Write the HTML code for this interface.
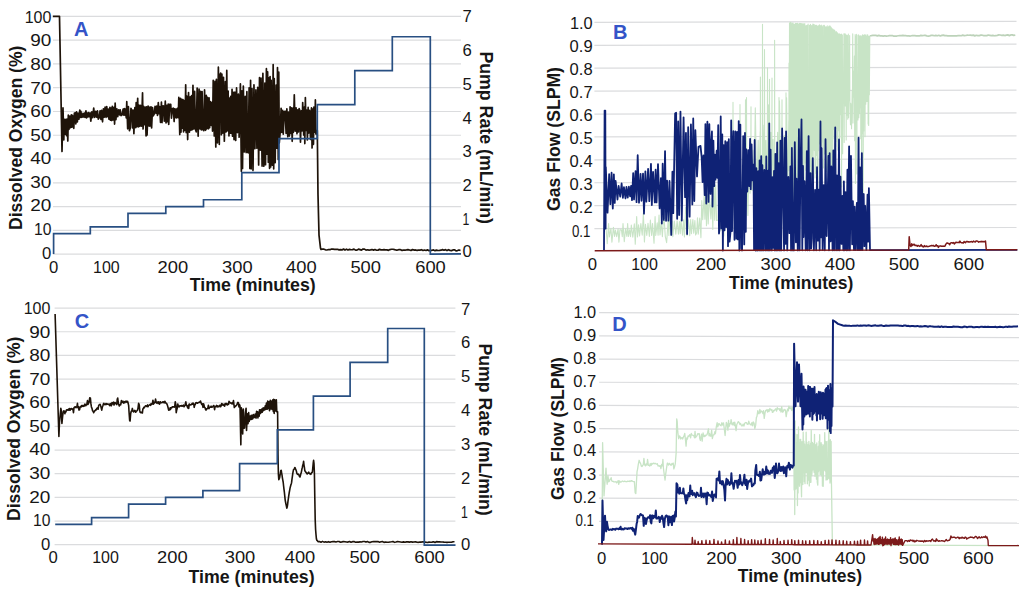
<!DOCTYPE html>
<html><head><meta charset="utf-8"><title>Dissolved oxygen and gas flow charts</title>
<style>
html,body{margin:0;padding:0;background:#fff;}
body{width:1024px;height:594px;overflow:hidden;}
svg{display:block;font-family:"Liberation Sans",Arial,sans-serif;}
</style></head><body>
<svg width="1024" height="594" viewBox="0 0 1024 594" fill="#161616">
<rect width="1024" height="594" fill="#fff"/>
<line x1="53" y1="254.1" x2="461" y2="254.1" stroke="#dbdcde" stroke-width="1.2"/>
<line x1="53" y1="230.33" x2="461" y2="230.33" stroke="#dbdcde" stroke-width="1.2"/>
<line x1="53" y1="206.56" x2="461" y2="206.56" stroke="#dbdcde" stroke-width="1.2"/>
<line x1="53" y1="182.79" x2="461" y2="182.79" stroke="#dbdcde" stroke-width="1.2"/>
<line x1="53" y1="159.02" x2="461" y2="159.02" stroke="#dbdcde" stroke-width="1.2"/>
<line x1="53" y1="135.25" x2="461" y2="135.25" stroke="#dbdcde" stroke-width="1.2"/>
<line x1="53" y1="111.48" x2="461" y2="111.48" stroke="#dbdcde" stroke-width="1.2"/>
<line x1="53" y1="87.71" x2="461" y2="87.71" stroke="#dbdcde" stroke-width="1.2"/>
<line x1="53" y1="63.94" x2="461" y2="63.94" stroke="#dbdcde" stroke-width="1.2"/>
<line x1="53" y1="40.17" x2="461" y2="40.17" stroke="#dbdcde" stroke-width="1.2"/>
<line x1="53" y1="16.4" x2="461" y2="16.4" stroke="#dbdcde" stroke-width="1.2"/>
<polyline points="52.8,16.4 59.5,16.4 62,151.41 63,107.91 63.8,140 64.4,119.31 65.13,134.24 65.89,119.4 66.52,135.68 66.99,119 67.81,141.04 68.3,115.21 69.03,129.29 69.86,116.19 70.48,127.6 71.35,114.74 71.85,127.17 72.53,115.35 73.1,125.9 73.79,128.34 74.4,112.99 75.31,112.97 75.79,124.02 76.51,111.97 77.35,121.87 77.96,113.18 78.94,119.24 79.78,110.17 80.38,117.47 80.88,111.3 81.69,117.31 82.43,117.04 82.97,113.26 83.53,116.93 84.55,113.11 85.07,117.41 85.94,110.86 86.56,117.92 87.15,113.09 87.77,116.82 88.38,112.65 89.05,116.69 90.04,112.82 90.84,121.21 91.83,111.97 92.67,117.72 93.71,108.17 94.7,117.43 95.7,111.3 96.68,117.21 97.47,110.86 98.29,119.11 99.26,117.6 100.06,110.89 100.96,119.51 101.55,110.39 102.55,121.79 103.41,108.78 104.26,117.06 105.1,107.06 106.1,117.3 106.74,106.48 107.7,116.72 108.25,109 108.95,119.15 109.91,107.35 110.37,120.17 111.17,108.04 111.7,120.58 112.29,106.42 113.01,119.89 114.03,107.38 114.59,124.1 115.15,103.17 115.91,119.66 116.84,108.92 117.72,116.69 118.72,109.75 119.64,114.97 120.22,109.96 121.1,115.57 122.13,114.85 123.13,109.14 123.84,115.04 124.31,108.63 124.86,115.11 125.4,108.99 126.27,117.87 126.77,101.71 127.66,128.83 128.44,106.7 129.43,130.64 130.2,128.18 130.95,108.35 131.71,110.15 132.45,127.98 133.15,110.13 133.89,133.76 134.88,107.5 135.7,127.74 136.16,102.71 136.8,126.57 137.69,98.39 138.26,126.97 138.96,105.1 139.79,126.43 140.6,105.46 141.54,126.17 142.54,92.82 143.08,129.01 143.58,106.24 144.11,124.84 144.68,107.6 145.2,107.23 146.06,135.96 146.53,106.79 147.07,135.06 148.11,106.01 149.14,126.1 149.87,107.04 150.32,126 151.05,106.89 151.6,127.96 152.53,107.5 153.22,115.97 154.15,114.08 155.07,106.45 156.05,113.28 156.74,106.15 157.47,115.51 158.3,102.53 158.95,113.75 159.63,106.51 160.54,122.52 161.43,102.2 162,122.59 162.99,105.92 163.78,106.03 164.28,121.18 165.29,101.22 166.03,122.85 166.74,105.39 167.36,121.76 168.24,104.09 168.71,124.41 169.7,104.38 170.72,104.36 171.46,118.09 172.47,108.55 173.41,108.23 174.13,121.55 174.66,108.79 175.26,117.59 176.03,109.08 176.63,117.95 177.45,108.41 178.24,117.75 178.8,97.45 179.78,134.53 180.49,98.33 180.98,132.11 181.81,99.31 182.46,128.21 182.99,99.51 183.56,131.88 184.24,100.52 185.01,130.38 185.69,84.78 186.19,132.59 186.81,96.07 187.66,139.53 188.53,92.59 189.41,132.23 190.21,96.73 190.92,130.35 191.61,95.64 192.28,129.71 192.96,85.3 193.73,128.93 194.64,91.42 195.4,129.29 196.24,131.82 197.16,88.03 198.15,136.2 199.05,89.1 199.96,128.93 200.61,91.47 201.38,129.89 202.08,91.62 203.01,129.59 203.85,130.61 204.55,89.91 205.59,130.34 206.3,95.44 206.93,128.78 207.49,97.46 208.49,128.81 209.07,97.76 209.65,127.61 210.56,101.71 211.29,125.51 211.95,102.66 212.53,131.08 213.21,80.39 214.26,135.94 214.99,81.39 215.8,146.95 216.41,79.24 217.46,142.85 218.37,67.2 219.31,144.31 219.82,75.25 220.62,73.05 221.32,134.66 221.9,74.19 222.85,133.09 223.48,77.23 224.34,141.2 225.37,81.58 226.05,131.92 226.77,70.44 227.35,130.81 228.12,91.01 228.97,136 229.62,98.04 230.27,133.15 230.77,96.28 231.47,133.38 232.05,89.32 232.54,136.15 233.38,92.36 234.03,139.61 234.9,92.18 235.72,140.44 236.56,87.95 237.48,132.58 238.39,94.2 239.14,137.24 240.4,83.95 241.36,171.21 241.94,90.75 242.52,168.42 243.34,86.04 244.31,151.92 245.21,96.43 246.17,152.57 246.88,91.67 247.4,152.16 248.26,152.76 249.12,87.78 249.88,168.46 250.57,80.33 251.16,168.82 252,88.57 253.01,170.38 253.96,84.79 254.93,148.66 255.9,89.91 256.93,148.12 257.75,87.37 258.64,164.89 259.5,77.64 260.33,150.03 261.05,78.18 262.09,166.05 262.9,73.23 263.85,166.24 264.89,83.04 265.51,164.65 266.41,68.71 267.01,154.27 267.63,71.86 268.32,162.18 268.77,77.96 269.56,168.31 270.09,76.56 270.67,167.02 271.2,80.37 272.24,165.1 273.17,64.63 273.7,168.85 274.24,78.55 275.17,162.7 276.18,85.03 276.98,148.18 277.49,67.61 278.26,159.52 278.77,72.05 279.28,143.03 280.22,131.84 281.1,108.3 281.73,132.38 282.65,110.3 283.26,134.26 284.22,111.78 285.12,111.22 286.12,133.37 286.85,108.79 287.79,136.83 288.43,112.06 289.38,136.04 290.09,106.82 290.62,133.43 291.37,107.78 292.19,141.32 292.91,108.12 293.39,132.31 294.28,94.77 295.22,131.27 296.07,107.78 296.96,133.83 297.77,109.9 298.45,132.01 299.15,108.55 299.8,110.47 300.48,142.12 301.42,110.77 302.11,130.99 302.69,102.48 303.72,135.09 304.3,107.09 304.82,143.54 305.37,97.6 305.96,130.44 306.83,109.99 307.38,139.92 308.14,107.44 308.85,133.06 309.64,110.44 310.52,139.44 311.49,107.77 312.07,147.92 312.58,109.09 313.46,144.39 313.91,107.09 314.84,132.23 315.37,99.92 315.91,133.98 317.3,130.5 318,194.68 319,235.08 320.5,248.16 321,249.38 322.5,249.17 324,249.17 325.5,249.8 327,249.97 328.5,249.55 330,249.68 331.5,249.05 333,249.2 334.5,249.32 336,249.38 337.5,249.27 339,249.89 340.5,249.55 342,249.89 343.5,249.02 345,250.03 346.5,249.14 348,250.03 349.5,249.32 351,249.74 352.5,249.67 354,249.16 355.5,250.15 357,250.11 358.5,249.11 360,249.6 361.5,250.11 363,249.05 364.5,249.11 366,250.11 367.5,249.75 369,250.11 370.5,249.9 372,249.55 373.5,250.1 375,249.48 376.5,250.26 378,250.12 379.5,249.37 381,249.87 382.5,249.86 384,249.66 385.5,249.81 387,249.93 388.5,250.36 390,249.55 391.5,249.27 393,249.27 394.5,249.65 396,250.03 397.5,250.03 399,249.65 400.5,249.68 402,250.36 403.5,250.22 405,250.08 406.5,249.91 408,249.57 409.5,249.95 411,250.52 412.5,249.58 414,250.06 415.5,249.97 417,250.33 418.5,250.09 420,250.15 421.5,249.71 423,250.51 424.5,249.99 426,250.44 427.5,249.84 429,250.63 430.5,250.36 432,250.29 433.5,249.95 435,250.65 436.5,250.18 438,250.49 439.5,250.41 441,250.19 442.5,249.63 444,250.2 445.5,249.65 447,250.6 448.5,249.71 450,250.38 451.5,250.6 453,249.95 454.5,249.76 456,250.85 457.5,250.55 459,249.96 460.5,250.48" fill="none" stroke="#1e1309" stroke-width="1.7" stroke-linejoin="round"/>
<polyline points="53.6,254.1 53.6,233.72 90.3,233.72 90.3,226.93 128,226.93 128,213.35 165.8,213.35 165.8,206.56 203.5,206.56 203.5,199.76 241.8,199.76 241.8,172.6 279,172.6 279,138.64 317.3,138.64 317.3,104.68 354.8,104.68 354.8,70.72 392.3,70.72 392.3,36.76 430.3,36.76 430.3,254.1 461,253.8" fill="none" stroke="#284f82" stroke-width="1.7" stroke-linejoin="miter"/>
<line x1="54.6" y1="544.7" x2="455.4" y2="544.7" stroke="#dbdcde" stroke-width="1.2"/>
<line x1="54.6" y1="521.04" x2="455.4" y2="521.04" stroke="#dbdcde" stroke-width="1.2"/>
<line x1="54.6" y1="497.38" x2="455.4" y2="497.38" stroke="#dbdcde" stroke-width="1.2"/>
<line x1="54.6" y1="473.72" x2="455.4" y2="473.72" stroke="#dbdcde" stroke-width="1.2"/>
<line x1="54.6" y1="450.06" x2="455.4" y2="450.06" stroke="#dbdcde" stroke-width="1.2"/>
<line x1="54.6" y1="426.4" x2="455.4" y2="426.4" stroke="#dbdcde" stroke-width="1.2"/>
<line x1="54.6" y1="402.74" x2="455.4" y2="402.74" stroke="#dbdcde" stroke-width="1.2"/>
<line x1="54.6" y1="379.08" x2="455.4" y2="379.08" stroke="#dbdcde" stroke-width="1.2"/>
<line x1="54.6" y1="355.42" x2="455.4" y2="355.42" stroke="#dbdcde" stroke-width="1.2"/>
<line x1="54.6" y1="331.76" x2="455.4" y2="331.76" stroke="#dbdcde" stroke-width="1.2"/>
<line x1="54.6" y1="308.1" x2="455.4" y2="308.1" stroke="#dbdcde" stroke-width="1.2"/>
<polyline points="55.1,314.02 58.9,436.57 59.5,421.67 59.6,421.44 60.19,415.14 60.84,408.32 61.39,410.88 61.92,423.45 62.61,416.43 63.32,411.5 63.85,410.89 64.47,411.29 64.86,413.69 65.43,411.55 65.87,412.02 66.34,410.25 67.04,409.73 67.68,410.14 68.1,410.18 68.55,409.05 69.07,410.03 69.59,408.48 69.98,410.24 70.69,409.18 71.26,408.48 71.85,408.72 72.29,409.42 72.98,408.85 73.47,412.59 73.98,407.85 74.66,407.07 75.37,406.86 76.05,407.67 76.51,406.72 76.92,406.75 77.46,403.39 77.86,407.67 78.53,406.63 78.97,410.04 79.53,409.77 80.03,407.25 80.67,406.39 81.21,406.99 81.65,405.64 82.07,405.55 82.56,406.42 83.09,405.36 83.74,406.36 84.26,406.13 84.9,404.08 85.46,405.53 85.92,405.75 86.43,404.47 86.83,404.37 87.47,400.51 87.99,404.38 88.45,403.42 89.08,402.27 89.71,397.81 90.36,397.95 90.92,403.7 91.41,406.93 92,408.4 92.59,410.78 93,411.07 93.67,412.75 94.32,411.36 95.02,410.64 95.56,409.95 95.97,410.2 96.37,409.19 96.89,408.29 97.4,407.92 98.09,409.28 98.71,405.25 99.3,404.87 99.97,404.24 100.44,405.1 101.03,407.12 101.74,410.14 102.22,407.51 102.79,406.06 103.49,403.81 103.91,403.3 104.36,404.55 104.97,404.63 105.46,404.57 105.9,403.6 106.48,404.38 107.18,403.87 107.77,404.19 108.28,404.14 108.98,404.57 109.67,405.71 110.2,403.55 110.9,404.11 111.35,405.74 111.99,402.56 112.39,403.86 112.96,403.72 113.62,402.15 114.02,405.02 114.56,402.9 115.11,402.51 115.55,403.58 116.14,403.82 116.75,404.63 117.25,399.38 117.73,398 118.12,401.5 118.59,404.3 119.29,405.92 119.75,405.3 120.33,404.43 120.72,404.6 121.39,400.59 121.85,402.59 122.41,401.75 122.93,401.16 123.57,403.07 124.16,401.8 124.76,402.75 125.32,401.22 126.03,401.91 126.66,401.22 127.08,402.23 127.64,401.36 128.07,403.04 128.64,405.42 129.1,412.78 129.66,420.34 130.08,421.06 130.68,413.46 131.28,411.24 131.79,411.04 132.35,408.43 133,411.23 133.71,411.88 134.1,411.21 134.67,410.41 135.13,410.9 135.68,412.26 136.34,411.2 136.85,410.85 137.46,410.25 137.97,408.61 138.62,403.36 139.28,405.12 139.71,410.39 140.13,412.27 140.69,412.65 141.23,412.21 141.92,412.78 142.39,412.93 142.86,408.86 143.42,408.53 143.81,407.21 144.33,407.68 144.95,406.64 145.41,405.88 146.08,405.82 146.71,406.53 147.1,406.55 147.58,404.92 148.03,406.8 148.47,405.51 149.07,405.14 149.49,404.85 149.88,404.55 150.46,405.43 151.1,403.67 151.75,404.49 152.4,403.57 152.93,400.2 153.5,404.12 153.92,402.26 154.54,402.89 155.04,402.39 155.55,399.07 156.09,402.01 156.72,403.06 157.19,402.26 157.59,402.09 158.15,403.43 158.6,401.75 159,402.28 159.53,404.15 159.99,403.22 160.38,401.8 161.08,402.68 161.75,402.59 162.43,402.38 162.86,401.84 163.46,401.81 164.07,403.01 164.79,401.28 165.5,402.44 166.09,403.26 166.73,403.69 167.38,405.1 168.04,407.47 168.65,410.14 169.25,409.74 169.74,409.93 170.17,407.69 170.71,409.13 171.15,407.63 171.82,407.61 172.52,406.8 172.91,407.04 173.58,406.81 174.26,407.12 174.82,405.88 175.27,401.69 175.77,404.56 176.23,412.67 176.67,410.22 177.33,407.71 177.77,403.95 178.27,406.01 178.91,406.84 179.31,406.78 179.97,405.68 180.67,405.91 181.21,405.64 181.65,405.56 182.05,406.23 182.74,405.77 183.43,405.12 184.02,406.76 184.73,405.57 185.11,404.73 185.83,401.86 186.41,405.53 187.04,405.86 187.68,407.85 188.2,405.37 188.7,408.42 189.3,403.94 189.84,404.63 190.41,405.03 190.98,404.84 191.52,404.51 192.21,403.43 192.65,404.04 193.09,403.1 193.75,403.96 194.22,407.33 194.79,404.66 195.24,404.63 195.79,402.72 196.38,402.67 197.05,403.03 197.49,403.28 198.2,402.5 198.8,402.58 199.4,402.03 200.03,402.16 200.5,400.99 201.05,402.93 201.73,404.44 202.31,403.86 203,407.32 203.54,403.73 203.98,405.08 204.52,407.33 204.97,407.43 205.5,409.33 206,410.18 206.55,408.74 207.26,408.72 207.77,408.38 208.43,405.19 208.98,408.6 209.52,407.41 210.06,407.22 210.47,407.26 211.11,406.14 211.57,407.12 212.14,407.13 212.77,406.64 213.45,405.63 213.93,405.66 214.59,409.69 215,407.1 215.6,406.62 216.13,406.42 216.54,405.4 217.17,406.98 217.69,405.93 218.2,406.82 218.89,406.8 219.58,405.4 220.03,405.18 220.69,406.66 221.14,405.87 221.75,403.58 222.17,405.08 222.88,404.17 223.54,405.44 224.05,405.09 224.59,406.25 225.14,403.52 225.83,404.37 226.25,403.44 226.86,404.54 227.3,404.89 227.98,403.59 228.54,404.31 229,401.28 229.64,402.68 230.18,402.65 230.73,403.1 231.19,403.14 231.63,403.65 232.23,402.79 232.79,403.91 233.47,400.65 233.87,404.14 234.33,407.54 234.78,406.74 235.27,406.08 235.77,406.19 236.25,405.44 236.91,404.77 237.41,403.16 237.88,402.41 238.46,402.94 238.94,406.96 239.59,404.65 240,405.98 240.84,444.85 241.37,407.83 241.88,411.74 242.68,434.02 243.33,408.94 243.96,428.16 244.6,427.96 245.42,412.87 246.09,408.2 246.54,430.45 247.34,413.8 248.02,423.8 248.66,412.44 249.23,421.35 250.06,416.08 250.87,419.56 251.28,415.32 251.8,419.14 252.18,415.4 252.64,418.88 253.4,414.59 254,417.7 254.71,417.18 255.24,413.99 256.06,418.09 256.58,411.2 257.07,416.38 257.48,411.83 257.93,417.93 258.39,412.33 259.15,416.25 259.53,409.75 260.25,413.57 260.72,409.75 261.15,412.69 261.75,409.06 262.13,412.26 262.96,408.16 263.39,410.66 263.75,407.74 264.5,409.92 265.26,405.8 265.7,409.37 266.45,403.08 267.23,409.32 267.69,401.04 268.16,408.57 268.79,401.71 269.52,410.62 270.26,400.2 270.71,408.92 271.27,401 272.09,409.54 272.84,399.87 273.31,411.59 273.68,399.41 274.2,413.4 274.73,399.86 275.51,411.02 276.33,399.68 276.8,411.84 277.6,411.7 278,454.46 278.4,474.24 278.8,479.77 279.2,478.7 279.6,477.91 280,475.26 280.4,473.21 280.8,470.61 281.2,470.24 281.6,472.87 282,474.96 282.4,477.83 282.8,480.13 283.2,482.27 283.6,486.02 284,489.32 284.4,492.47 284.8,496.32 285.2,500.08 285.6,502.25 286,504.37 286.4,506.18 286.8,508.12 287.2,507.08 287.6,504.64 288,501.02 288.4,498.32 288.8,495.4 289.2,492.77 289.6,490.66 290,488.41 290.4,486.68 290.8,485.13 291.2,484.02 291.6,482.46 292,479.07 292.4,476.46 292.8,473.31 293.2,471.09 293.6,469.56 294,469.35 294.4,468.5 294.8,467.57 295.2,467.88 295.6,469.02 296,470.08 296.4,471.21 296.8,473.21 297.2,473.99 297.6,474.33 298,474.54 298.4,474.22 298.8,474.73 299.2,475.66 299.6,476.79 300,476.93 300.4,475.45 300.8,473.73 301.2,472.85 301.6,470.85 302,468.61 302.4,467.19 302.8,464.97 303.2,464.09 303.6,461.33 304,465.12 304.4,467.4 304.8,470.57 305.2,471.27 305.6,471.98 306,472.21 306.4,472.98 306.8,473.38 307.2,473.98 307.6,473.12 308,473.07 308.4,473.22 308.8,472.14 309.2,472.85 309.6,473.4 310,473.87 310.4,473.74 310.8,474.39 311.2,473.3 311.6,472.52 312,472.64 312.4,472.01 312.8,467.77 313.2,463.46 313.6,460.36 314,463.59 314.4,473.07 314.8,497.47 315.2,519.62 315.6,529.5 316,534.52 316.4,538.75 316.8,540.28 317.2,540.47 318,541.66 319.5,541.54 321,542.17 322.5,541.4 324,542.16 325.5,541.71 327,542.26 328.5,541.63 330,542.21 331.5,541.69 333,541.67 334.5,541.64 336,541.95 337.5,541.55 339,541.44 340.5,542.26 342,541.89 343.5,541.47 345,541.68 346.5,541.96 348,542.1 349.5,541.49 351,542.31 352.5,541.67 354,541.6 355.5,542.25 357,542.09 358.5,542.11 360,541.89 361.5,542.06 363,541.57 364.5,541.54 366,542.12 367.5,541.57 369,542.36 370.5,542.33 372,541.8 373.5,541.67 375,541.66 376.5,541.5 378,541.62 379.5,542.19 381,541.74 382.5,541.57 384,542.36 385.5,541.98 387,542.31 388.5,542.32 390,542 391.5,541.83 393,541.54 394.5,542.34 396,541.99 397.5,541.53 399,541.75 400.5,541.97 402,542.25 403.5,541.88 405,542.24 406.5,541.88 408,541.87 409.5,542.12 411,541.74 412.5,542.11 414,542.06 415.5,541.71 417,542.27 418.5,542.33 420,541.97 421.5,542.1 423,541.69 424.5,542.28 426,542.17 427.5,542.47 429,542.1 430.5,542.23 432,542.11 433.5,541.81 435,542.5 436.5,541.6 438,541.87 439.5,541.78 441,542.04 442.5,542 444,542.16 445.5,542.18 447,542.35 448.5,542.27 450,542.28 451.5,542.25 453,541.71 454.5,541.81" fill="none" stroke="#1e1309" stroke-width="1.6" stroke-linejoin="round"/>
<polyline points="55.2,524.43 91.6,524.43 91.6,517.68 128.6,517.68 128.6,504.16 165.6,504.16 165.6,497.41 202.9,497.41 202.9,490.65 239.6,490.65 239.6,463.63 277.3,463.63 277.3,429.85 313.4,429.85 313.4,396.07 350.1,396.07 350.1,362.29 387.7,362.29 387.7,328.51 424.3,328.51 424.3,545.21 455.5,545.2" fill="none" stroke="#284f82" stroke-width="1.7" stroke-linejoin="miter"/>
<g transform="matrix(1 -0.0026 0 1 0 1.544)">
<line x1="594.4" y1="228.59" x2="1016.5" y2="228.59" stroke="#dbdcde" stroke-width="1.2"/>
<line x1="594.4" y1="205.68" x2="1016.5" y2="205.68" stroke="#dbdcde" stroke-width="1.2"/>
<line x1="594.4" y1="182.77" x2="1016.5" y2="182.77" stroke="#dbdcde" stroke-width="1.2"/>
<line x1="594.4" y1="159.86" x2="1016.5" y2="159.86" stroke="#dbdcde" stroke-width="1.2"/>
<line x1="594.4" y1="136.95" x2="1016.5" y2="136.95" stroke="#dbdcde" stroke-width="1.2"/>
<line x1="594.4" y1="114.04" x2="1016.5" y2="114.04" stroke="#dbdcde" stroke-width="1.2"/>
<line x1="594.4" y1="91.13" x2="1016.5" y2="91.13" stroke="#dbdcde" stroke-width="1.2"/>
<line x1="594.4" y1="68.22" x2="1016.5" y2="68.22" stroke="#dbdcde" stroke-width="1.2"/>
<line x1="594.4" y1="45.31" x2="1016.5" y2="45.31" stroke="#dbdcde" stroke-width="1.2"/>
<line x1="594.4" y1="22.4" x2="1016.5" y2="22.4" stroke="#dbdcde" stroke-width="1.2"/>
<polyline points="606,227.82 607.26,243.85 608.59,223.67 609.37,237.04 610.91,228.46 611.92,242.36 613.42,227.24 614.56,236.41 615.4,230.18 616.71,236.71 618.07,228.9 618.92,242.32 619.93,229.93 621.45,229.86 622.27,236.88 623.01,223.64 624.28,241.88 625.51,228.91 626.88,236.49 627.64,223.71 628.47,236.61 629.55,229.85 630.54,236.73 631.3,225.22 632.81,237.26 634.34,224.01 635.25,244.32 636.67,216.74 637.5,237.02 638.56,224.9 639.57,235.97 640.86,223.74 642.21,235.37 643.38,213.41 644.42,242.01 645.45,224.4 646.8,235.6 648,223.45 649.37,236.69 650.37,220.11 651.65,235.69 652.52,223.67 654.01,243.38 655.09,216.72 655.75,235.68 657.22,223.08 658.08,235.4 659.02,215.23 660.01,235.11 661.13,222.46 662.38,236.99 663.77,212.9 665.27,236.53 666.63,242.83 668.17,220.19 668.87,235.69 669.65,210.53 670.73,235.14 672.12,221.32 672.86,236.85 674.32,221.22 675.81,234.36 677.11,220.95 678.42,234.49 679.46,221.84 680.24,233.97 681.01,220 682.51,235.51 683.56,220.06 684.42,237.13 685.74,207.45 687.09,235.96 688.45,219.96 689.72,235.86 690.66,219.91 691.42,234.05 692.86,219.81 693.75,233.35 694.89,220.8 695.62,235.24 696.7,233.06 697.48,218 698.26,234.43 699.71,218.25 700.95,237.93 701.75,200.71 702.72,219.91 704.17,195.73 704.91,219.59 705.73,188.67 706.44,225.93 707.45,195.07 708.18,224.3 709.46,195.92 710.89,219.2 711.91,198.82 712.8,229.72 713.96,181.94 714.71,220.57 715.68,185.4 716.54,220.73 718.05,220.6 719.09,198.67 720.16,220.32 721.24,230.73 722.5,195.15 723.83,236.32 725.35,193.52 726.26,192.59 727.26,220.11 728.5,192.81 729.99,222.41 731.44,193.39 732.49,223.7 732.8,171.31 733,102.59 733.2,171.31 733.83,191.01 735.33,224.66 736.09,187.68 737.18,224.45 738.46,191.44 739.16,226.65 739.8,171.31 740,104.88 740.2,171.31 740.31,186.49 741.31,226.01 742.64,194.92 743.45,221.3 744.88,174.46 745.3,171.31 745.5,100.29 745.7,171.31 745.74,209.61 746.3,171.31 746.5,98 746.7,171.31 747.02,156.38 747.9,215.84 749.06,153.87 750.06,193.53 750.8,171.31 751,107.17 751.03,150.57 751.2,171.31 752.03,190.84 753.01,150.4 754.11,192.4 755.29,108.34 756.72,190.44 758.15,140.63 758.89,190.05 760.17,132.01 760.2,171.31 760.4,77.38 760.6,171.31 761.61,188.56 762.3,171.31 762.5,24.69 762.7,171.31 763.03,125.47 764.3,171.31 764.33,186.34 764.5,49.89 764.7,171.31 765.82,140.81 767.21,192 767.3,171.31 767.5,68.22 767.7,171.31 768.36,105.16 769.3,171.31 769.5,79.68 769.7,171.31 769.83,184.05 770.84,132.67 771.8,171.31 772,78.53 772.01,189.81 772.2,171.31 773.09,139.89 773.84,186.07 774.4,171.31 774.58,128.12 774.6,40.73 774.8,171.31 776.11,191.15 777.63,132.67 778.66,188.44 778.8,171.31 779,98 779.2,171.31 779.48,101.27 780.78,189.61 781.8,171.31 782,100.29 782.08,132.42 782.2,171.31 782.99,205.89 784.33,135.9 785.74,186.28 785.8,171.31 786,93.42 786.2,171.31 786.58,98.28 787.69,192.05 788.79,121.15 788.8,171.31 789,63.64 789.2,171.31 789.5,23.47 789.75,181.52 790.23,22.9 790.48,164.16 790.93,22.83 791.18,173.42 791.81,24.43 792.06,170.84 792.23,23.47 792.48,154.66 793.1,23.66 793.35,213.28 793.99,24.81 794.24,158.6 794.45,24.78 794.7,192.53 795.11,24.49 795.36,187.59 795.53,23.72 795.78,186.85 796,24.75 796.25,198.21 796.5,24.02 796.75,170.55 797.08,23.76 797.33,188.86 797.72,23.83 797.97,157.15 798.13,24.64 798.38,151.05 798.88,24.58 799.13,190.04 799.32,24.08 799.57,172.11 799.98,23.8 800.23,169.18 800.39,24 800.64,186.31 800.88,24.46 801.13,162.43 801.66,24.05 801.91,153.69 802.52,24.31 802.77,167.11 803.35,24.44 803.6,186.08 803.88,24.83 804.13,181.51 804.76,24.09 805.01,163.62 805.66,26.28 805.91,170.71 806.52,26.05 806.77,215.7 807.31,25.91 807.56,191.95 808.11,24.51 808.36,154.38 808.92,124.45 809.17,173.76 809.39,25.83 809.64,167.99 809.89,26.18 810.14,183.87 810.5,24.87 810.75,167.21 811.22,26.71 811.47,193.96 811.8,26.11 812.05,187.52 812.42,26.22 812.67,177.46 812.84,24.66 813.09,182.26 813.73,24.78 813.98,150.26 814.15,25.19 814.4,151.08 814.74,26.88 814.99,178.45 815.24,26.12 815.49,173.93 816.01,25.73 816.26,156.11 816.88,26.23 817.13,181.96 817.67,26.81 817.92,205.87 818.26,26.96 818.51,151.36 818.71,26.2 818.96,143.92 819.39,25.45 819.64,144.56 820.06,26.17 820.31,140.02 820.7,26.86 820.95,160.49 821.24,25.52 821.49,173.62 821.8,26.97 822.05,142.53 822.63,27.29 822.88,147.13 823.16,25.78 823.41,168.64 823.62,103.85 823.87,146.83 824.34,25.98 824.59,154.59 824.92,27.66 825.17,142.95 825.33,27.82 825.58,169.58 826.18,26.86 826.43,172.18 826.71,124.62 826.96,152.98 827.24,27.94 827.49,168.26 827.73,26.53 827.98,175.3 828.53,27.54 828.78,168.28 829.22,26.93 829.47,180.35 829.92,26.36 830.17,152.68 830.52,27.37 830.77,173.42 831.19,27.91 831.44,178.15 831.9,29.22 832.15,131.99 832.46,29.68 832.71,166.35 833.19,29.82 833.44,129.95 833.98,30.86 834.23,139.4 834.68,30.79 834.93,138.24 835.52,32.49 835.77,147.06 836.33,32.15 836.58,129.27 836.98,33.41 837.23,142.34 837.49,33.31 837.74,150.66 837.95,33.95 838.2,119.22 838.37,34.69 838.62,131.39 839.11,35.12 839.36,151.36 839.61,34.51 839.86,138.58 840.51,35.13 840.76,115.45 841.32,34.71 841.57,187.68 841.91,35.32 842.16,137.46 842.37,35.8 842.62,154.39 843.04,89.96 843.29,103.93 843.93,34.49 844.18,143.2 844.53,34.54 844.78,101.39 845.12,34.48 845.37,106.54 845.96,35.54 846.21,140.61 846.51,35.97 846.76,115.98 847.07,69.85 847.32,114.29 847.51,36.13 847.76,119.89 848.32,34.82 848.57,118.45 848.83,66.12 849.08,101.37 849.64,36.21 849.89,102.64 850.48,125.35 850.73,104.09 851.3,110.94 851.55,129.41 852.18,91.41 852.43,102.99 852.72,34.58 852.97,123.78 853.61,71.98 853.86,97.78 854.4,56.81 854.65,141.49 855.19,35.27 855.44,184.17 856,36.63 856.25,121.4 856.63,34.93 856.88,174.65 857.1,35.88 857.35,100.14 857.96,120.69 858.21,105.83 858.59,35.5 858.84,118.47 859.18,37.06 859.43,114.39 859.93,36.42 860.18,108.49 860.52,36.47 860.77,139.33 861.37,37.33 861.62,193.82 861.9,36.53 862.15,127.19 862.47,35.46 862.72,134.46 862.91,36.68 863.16,210.77 863.47,35.97 863.72,131.58 864.26,35.55 864.51,97.04 864.73,35.79 864.98,137.38 865.51,35.87 865.76,104.84 865.93,35.45 866.18,102.37 866.8,36.92 867.05,102.28 867.41,35.54 867.66,96.1 867.88,35.85 868.13,124.63 868.42,36.9 868.67,126.22 869.11,37.23 869.36,95.43 869.8,36.49" fill="none" stroke="#c8e4c6" stroke-width="1.1" stroke-linejoin="round"/>
<polyline points="869.8,36.46 871.3,36.42 872.8,36.19 874.3,36.14 875.8,36.16 877.3,36.64 878.8,36.11 880.3,36.6 881.8,36.71 883.3,36.91 884.8,36.54 886.3,36.87 887.8,36.76 889.3,36.46 890.8,36.32 892.3,36.34 893.8,36.96 895.3,36.99 896.8,36.82 898.3,36.55 899.8,36.29 901.3,36.33 902.8,36.2 904.3,36.51 905.8,36.47 907.3,36.78 908.8,36.76 910.3,36.85 911.8,36.55 913.3,36.48 914.8,36.51 916.3,36.67 917.8,36.64 919.3,36.8 920.8,36.27 922.3,36.49 923.8,36.33 925.3,36.27 926.8,36.75 928.3,36.9 929.8,36.74 931.3,36.17 932.8,36.27 934.3,36.62 935.8,36.28 937.3,36.68 938.8,36.19 940.3,36.9 941.8,36.3 943.3,36.08 944.8,36.59 946.3,36.55 947.8,36.85 949.3,36.71 950.8,36.75 952.3,36.69 953.8,36.89 955.3,36.68 956.8,36.86 958.3,36.47 959.8,36.57 961.3,36.73 962.8,36.07 964.3,36.65 965.8,36.45 967.3,36.11 968.8,36.23 970.3,36.04 971.8,36.36 973.3,36.12 974.8,36.86 976.3,36.24 977.8,36.6 979.3,36.61 980.8,36.2 982.3,36.22 983.8,36.58 985.3,36.56 986.8,36.64 988.3,36.03 989.8,36.32 991.3,36.64 992.8,36.39 994.3,36.82 995.8,36.63 997.3,36.41 998.8,35.98 1000.3,36.08 1001.8,36.36 1003.3,36.16 1004.8,36.63 1006.3,36.22 1007.8,35.94 1009.3,36.71 1010.8,35.99 1012.3,35.94 1013.8,36.5 1015.3,36.09" fill="none" stroke="#bcd2b9" stroke-width="1.7" stroke-linejoin="round"/>
<polyline points="604,250.9 604.6,110.6 605.3,110.6 605.6,228.59 605.8,167.08 607.54,212.72 609.16,174.23 610.37,204.19 611.57,172.72 612.79,208.58 613.85,174.43 614.74,202.95 615.63,181.07 617.49,199.61 618.59,185.91 620.21,196.79 621.62,183.56 622.9,197.91 623.95,187.31 625.48,198.56 626.43,187.07 627.74,197.65 628.87,186.81 630.1,196.49 631.09,186.05 632.01,200.2 633.2,173.16 634.01,199.55 635.57,171.28 636.56,202.23 637.7,155.29 639.01,202.82 640.56,173.92 641.48,200.93 643.02,173.74 643.99,213.84 645.38,171.49 646.35,201.81 648.1,169.03 649.3,201.24 650.97,164 651.83,205.14 653.06,172.02 654.79,202.59 655.61,169.91 656.55,202.54 658,164.22 659.63,208.54 660.92,178.27 661.81,223.77 662.67,163.95 663.88,220.06 665.04,151.24 666.06,221 667.06,180.75 668.41,220.88 669.49,181.21 671.3,235.16 672.42,171.94 673.28,213.33 675.13,113.69 676.13,113.01 677.17,218.98 678.19,121.64 679.15,215.22 680.46,111.81 681.79,220.83 683.58,117.57 685.06,197.41 685.95,133.09 687.09,234.32 688.17,127.48 689.62,216.96 690.93,124.73 692.31,204.64 693.23,118.78 694.31,201.3 695.36,130.5 697.02,176.67 698.48,147.04 700.5,146.23 701.63,157.2 702.57,182.33 703.46,155.76 704.64,195.27 705.42,124.42 706.28,203.8 707.39,121.98 708.57,202.2 709.34,124.49 710.53,194.24 711.38,140.27 711.95,131.83 712.5,206.84 713.38,140.86 714.28,186.31 714.93,154.84 715.53,179.95 716.66,151.06 717.37,178.09 718.22,125.5 718.99,233.86 719.59,229.32 720.72,116.84 721.54,228.73 722.27,134.66 722.87,250.9 723.67,145.6 724.54,230.58 725.29,141.5 726.21,227.42 727.18,142.56 728.02,246.5 728.82,139.54 729.6,242.01 730.56,231.53 731.19,120.74 732.05,231.35 732.84,144.7 733.36,131.41 734.51,240.19 735.37,131.75 736.44,239.02 737.16,132.37 737.88,239.82 738.73,121.46 739.35,250.9 740.35,124.91 741.35,248.74 742.09,250.9 743.21,136.43 744.25,244.84 744.99,133.18 745.81,232.16 746.4,149.9 747.3,191.94 748.45,150.44 749.15,186.38 750.11,139.2 750.74,189.52 751.58,144.75 752.43,180.81 753.5,165.14 754.06,250.33 754.68,140.35 755.68,250.9 756.35,168.63 757.21,250.9 758.19,171.64 759.02,250.9 759.59,160.92 760.41,250.9 761.22,156.68 761.89,250.9 762.42,165.59 763.47,250.9 764.34,170.35 765.46,250.9 766.27,156.89 767.15,250.9 768.01,171.21 768.7,250.9 769.23,123.79 769.88,250.9 770.6,150.09 771.75,250.9 772.45,177.65 773.24,248.3 774.02,171.49 774.73,250.9 775.4,154.35 776.31,250.9 777.17,142.92 777.83,250.9 778.72,163.67 779.68,250.9 780.42,141.11 781.22,250.9 782.13,128.9 782.89,180.27 784.06,250.9 784.65,138.31 785.56,244.24 786.08,131.99 787.26,250.9 788.34,177.29 789.46,233.64 790.44,166.8 791.06,250.9 791.86,148.44 792.95,250.9 793.82,250.9 794.81,142.67 795.89,242.81 796.58,179.22 797.76,250.9 798.94,129.79 799.65,250.9 800.32,178.03 801.51,120.03 802.28,250.9 802.99,166.52 803.52,237.54 804.55,181.72 805.7,250.9 806.84,151.76 807.45,250.9 808.59,136.6 809.48,250.9 810.56,173.68 811.23,248.85 811.82,239.1 812.78,158.71 813.91,250.9 815.1,190.38 816.19,250.9 817.03,167.8 817.93,241.26 818.79,190.2 819.65,250.9 820.47,121.99 821.1,238.03 821.63,148.7 822.64,250.69 823.64,185.79 824.78,250.9 825.52,139.83 826.71,236.62 827.81,191.48 828.41,156.39 828.99,250.9 829.64,153.75 830.6,241.96 831.39,167.04 832.56,250.9 833.35,151.14 834.1,250.9 835.24,128.04 836.12,250.9 836.98,175.95 837.99,250.9 839,140.12 839.68,250.9 840.49,177.3 841.57,244.61 842.39,196.6 843.33,250.9 843.87,182.02 844.74,250.9 845.63,192.8 846.49,250.9 847.44,170.43 848,250.9 849.11,147.01 849.89,250.9 850.97,156.51 852.14,245.02 852.89,201.82 853.99,250.9 854.71,207.31 855.74,250.9 856.88,203.52 857.82,250.9 858.58,138.38 859.3,250.9 860.07,168.13 860.69,250.9 861.86,153.77 862.45,250.9 862.97,196.11 863.7,194.66 864.4,246.92 865.2,206.58 866.38,250.9 867.53,195.29 868.05,242.42 868.89,188.9 870,250.9 1017.3,250.9" fill="none" stroke="#0f2275" stroke-width="1.8" stroke-linejoin="round"/>
<polyline points="594.7,250.8 908.7,250.8 909.2,237.5 910,246 911,247.31 911.74,244.6 912.43,246.32 913.21,245.57 914.17,245.05 915.04,246.4 915.77,246.07 916.72,246.25 917.31,247.13 918.05,246.21 918.76,246.5 919.33,247.24 920.24,246.89 921.12,245.38 921.91,247.12 922.49,246.83 923.05,247.82 923.63,247.64 924.5,246.45 925.07,247.36 925.7,247.44 926.54,246.84 927.27,247.49 927.94,247.34 928.53,247.44 929.19,247.24 930.02,246.86 930.72,246.72 931.54,246.42 932.51,246.64 933.34,246.31 934.37,247.2 935.32,247 936.19,245.62 936.78,246.86 937.81,246.56 938.41,248.28 939.32,247.01 940.16,246.76 940.79,246.92 941.44,247.2 942.4,247.17 943.35,247.02 943.92,247.23 944.93,247.16 945.72,245.31 946.32,244.56 947.16,243.82 947.95,244.19 948.77,244.48 949.71,245.57 950.48,244.1 951.42,243.59 952.1,243.71 952.73,244.15 953.7,243.51 954.3,245.01 955.21,243.87 955.88,243.08 956.79,243.47 957.58,243.56 958.39,243.3 959.19,243.59 959.92,242.01 960.72,243.37 961.45,243.73 962.13,243.59 963.15,244.15 964.05,242.47 964.66,243.36 965.61,243.66 966.29,242.35 967.25,242.46 967.84,242.87 968.75,242.71 969.69,242.91 970.7,242.64 971.74,242.55 972.66,243.13 973.45,242.06 974.37,242.61 975.24,243.09 976.06,241.95 977.09,242.11 977.73,242.29 978.64,243.14 979.47,242.7 980.26,242.81 981.05,242.3 981.68,242.82 982.3,242.42 983.24,242.7 983.86,242.56 984.77,242.75 985.49,242.03 986.3,250.8 1017.3,250.8" fill="none" stroke="#7c1a1a" stroke-width="1.5" stroke-linejoin="round"/>
</g>
<g transform="matrix(1 0.004 0 1 0 -2.396)">
<line x1="599.1" y1="521.41" x2="1019" y2="521.41" stroke="#dbdcde" stroke-width="1.2"/>
<line x1="599.1" y1="498.22" x2="1019" y2="498.22" stroke="#dbdcde" stroke-width="1.2"/>
<line x1="599.1" y1="475.03" x2="1019" y2="475.03" stroke="#dbdcde" stroke-width="1.2"/>
<line x1="599.1" y1="451.84" x2="1019" y2="451.84" stroke="#dbdcde" stroke-width="1.2"/>
<line x1="599.1" y1="428.65" x2="1019" y2="428.65" stroke="#dbdcde" stroke-width="1.2"/>
<line x1="599.1" y1="405.46" x2="1019" y2="405.46" stroke="#dbdcde" stroke-width="1.2"/>
<line x1="599.1" y1="382.27" x2="1019" y2="382.27" stroke="#dbdcde" stroke-width="1.2"/>
<line x1="599.1" y1="359.08" x2="1019" y2="359.08" stroke="#dbdcde" stroke-width="1.2"/>
<line x1="599.1" y1="335.89" x2="1019" y2="335.89" stroke="#dbdcde" stroke-width="1.2"/>
<line x1="599.1" y1="312.7" x2="1019" y2="312.7" stroke="#dbdcde" stroke-width="1.2"/>
<polyline points="602,544.6 602.6,442.56 604,495.9 606,468.07 606.6,479.37 607.16,484.2 607.94,475.66 608.74,481.76 609.5,480.91 610.06,479.09 610.62,479.23 611.14,477.69 611.72,480.78 612.26,481.28 613.13,481.24 613.64,481.74 614.39,481.92 615.24,481.73 616.01,481.57 616.7,482.82 617.59,481.54 618.2,480.52 618.75,484.29 619.53,480.82 620.32,481.93 621.06,481.89 621.65,481.51 622.44,480.91 623.21,481.23 623.8,481.45 624.63,481.09 625.25,481.33 625.97,481.63 626.66,481.58 627.38,481.04 627.92,481.36 628.75,481.25 629.32,480.79 629.96,481.47 630.53,480.85 631.08,481.1 631.75,480.46 632.25,480.87 632.83,481.23 633.72,481.38 634.37,481.48 635.16,492.63 635.82,493.35 636.35,484.12 637.04,471.39 637.64,468.72 638.29,464.18 639.12,460.11 639.87,462.3 640.75,463.72 641.25,465.83 641.9,466.35 642.55,465.58 643.3,464.38 643.9,458.24 644.68,464.63 645.47,465.75 646.16,463.65 647.01,464.82 647.55,459.2 648.35,465.07 648.88,465.07 649.73,465.81 650.26,463.32 651.13,465.29 651.7,463.1 652.56,463.88 653.43,462.87 654.28,463.56 654.84,463.11 655.55,463.16 656.15,463.9 656.75,463.88 657.35,463.43 658.05,465.73 658.66,465.52 659.27,466.11 660.17,465.32 660.89,468.43 661.71,464.22 662.38,465.63 662.9,459.24 663.42,467.78 664.27,474.48 665.07,479.77 665.59,474.55 666.42,468.59 667.31,462.84 667.81,462.93 668.49,464.85 669,464.16 669.52,463.03 670.38,464.46 671.06,465.07 671.94,463.12 672.64,463.9 673.21,462.8 673.81,468.66 674.65,466.15 675.26,463.53 676.15,452.57 676.7,418.52 677.22,421.11 677.75,431.64 678.64,438.41 679.52,435.62 680.21,436.57 680.79,438.71 681.45,437.47 682.09,437.3 682.64,438.66 683.25,436.88 684.14,435.28 684.73,433.01 685.58,440.52 686.07,445.84 686.75,437.64 687.42,438.75 688.11,435.5 688.66,435.91 689.19,435.17 689.76,434.27 690.6,437.59 691.28,433.13 691.92,434.53 692.48,434.77 693.37,435.04 693.88,435.47 694.49,437.45 695.04,430.9 695.54,437.21 696.05,436.37 696.83,435.49 697.73,433.27 698.36,433.74 699.24,433.19 699.77,438.24 700.42,440.09 700.99,436.49 701.53,433.74 702.18,440.8 703.08,432.47 703.8,435.89 704.32,436.21 705,434.78 705.63,435.54 706.15,434.78 707,434.32 707.57,432.26 708.44,428.34 709,435.3 709.58,433.3 710.14,435.6 710.9,435.62 711.65,429.58 712.36,438.17 713.26,434.44 714.09,434.49 714.89,431.19 715.43,433.27 716.3,426.39 717.15,422.28 717.76,426.44 718.25,424.75 718.85,423.07 719.48,423.51 720.27,424.83 721.04,425.31 721.86,422.13 722.69,424.56 723.5,422.4 724.4,429.23 725.11,435 725.72,427.94 726.33,421.86 727.15,423.83 727.91,429.77 728.56,419.96 729.11,426.01 729.98,423.21 730.56,423 731.09,419.14 731.97,424.18 732.54,424.35 733.32,421.89 734.21,425.1 734.73,421.52 735.23,424.18 736.07,430 736.8,423.99 737.44,422.74 738.16,421.09 739.02,421.64 739.92,424.05 740.45,422.77 741.31,424.79 741.96,425.44 742.64,424.71 743.15,423.51 743.91,425.45 744.73,422.69 745.61,421.94 746.49,422.11 747.11,423.45 748.02,423.86 748.77,420.51 749.43,422.85 750.2,423.65 751.03,424.37 751.82,422.06 752.61,425.12 753.16,421.36 754.07,422.56 754.83,427.96 755.68,424.5 756.39,416.73 756.94,415.89 757.81,409.93 758.38,412.96 759.12,413.06 759.85,408.75 760.51,412.15 761.21,410.36 762.11,410.74 762.96,413 763.54,410.1 764.21,417.71 765.1,411.8 765.66,409.78 766.51,409.96 767.04,408.86 767.67,411.35 768.32,408.97 769.01,410.88 769.89,407.76 770.54,408.92 771.21,409.69 771.87,408.8 772.38,411.57 773.1,411.34 773.6,409.77 774.31,410.08 775.14,408.69 775.71,408.12 776.6,410.45 777.29,406.86 777.9,408.41 778.42,408.08 779.28,407.98 779.8,409.82 780.38,408.22 781.05,411.29 781.69,405.92 782.55,411.36 783.15,411.16 784.05,408.61 784.56,409.45 785.4,409.17 786.18,415.87 786.99,410.78 787.73,408.27 788.36,410.05 788.87,405.31 789.61,407.6 790.42,407.94 791.07,406.5 791.76,409.7 792.63,406.65 793.19,406.99 793.8,424.34 794.1,489.16 794.35,425.98 794.73,513.83 795.13,420.22 795.36,487.73 795.63,433.22 795.89,488.31 796.34,442.13 796.73,487.32 797.14,433.89 797.45,504.78 797.77,437.65 798.06,492.12 798.47,426.11 798.81,483.27 799.25,442.46 799.49,485.36 800,438.69 800.35,481.83 800.65,438.7 801.15,482.14 801.54,496.02 801.96,440.89 802.3,477.27 802.79,483.75 803.18,431.23 803.54,471.83 803.85,440.45 804.34,480.88 804.62,443.31 805.01,482.87 805.52,445.31 805.76,469.27 806.14,431.43 806.4,471.68 806.9,441.53 807.35,483.01 807.77,471.88 808.07,443.83 808.36,479.31 808.87,440.68 809.3,485.09 809.7,445.02 809.99,481.63 810.36,444.34 810.61,442.31 810.92,481.42 811.23,429.54 811.72,474.72 812.2,469.39 812.48,441.55 812.73,469.03 813.19,442.82 813.72,444.62 814.04,471.5 814.5,433.47 814.99,475.48 815.27,444.36 815.53,473.53 815.95,443.8 816.46,478.32 816.81,442.07 817.27,481.31 817.8,484.15 818.31,445.6 818.59,470.75 819.11,440.29 819.43,469.31 819.7,433.83 820.11,473.79 820.42,445.76 820.67,473.35 821.13,441.84 821.53,474.97 822.03,443.57 822.43,485.15 822.93,445.48 823.23,485.43 823.72,444.02 824.23,469.09 824.73,431.7 825.24,470.13 825.55,440.51 826.04,479.16 826.36,440.73 826.65,472.27 826.96,476.01 827.35,478.74 827.63,478.17 827.99,440.29 828.37,477.12 828.82,426.56 829.26,477.84 829.51,439.47 830,482.15 830.35,438.66 830.71,480.11 831.12,440.5 831.44,481.45 832.4,543.9 1019,543.9" fill="none" stroke="#c8e4c6" stroke-width="1.3" stroke-linejoin="round"/>
<polyline points="602,544.6 602.5,500.54 603.5,539.96 605,515.61 605.6,526.69 606.15,531.31 606.97,521.78 607.47,525.33 608.32,529.44 608.99,529.92 609.83,529.6 610.53,529.4 611.27,529.34 611.92,529.94 612.81,528.8 613.67,529.19 614.52,529.06 615.29,529.7 616.11,528.54 616.83,528.77 617.67,528.62 618.41,529.15 619.16,528.28 619.69,528.91 620.58,526.7 621.11,529.34 621.88,529.27 622.41,528.71 622.92,529.42 623.82,529.2 624.73,528.07 625.36,528.3 626.24,528.27 627.09,528.66 627.62,528.89 628.28,528.18 628.88,528.29 629.51,528.59 630.07,527.89 630.97,528.06 631.55,528.7 632.2,527.55 632.88,530.64 633.48,528.68 634.04,529.12 634.58,532.12 635.25,534.49 635.88,529.72 636.61,523.66 637.12,521.74 637.72,515.94 638.31,517.68 639.07,517.34 639.68,515.26 640.55,513.77 641.4,514.69 642.11,515.15 642.99,515.32 643.73,525.68 644.6,517.58 645.34,518.48 645.94,523.82 646.56,520.64 647.16,518.11 647.8,517.27 648.58,516.97 649.41,517.75 650.05,514.94 650.79,521.96 651.34,523.17 652.04,515.24 652.64,515.36 653.34,518.13 653.96,515.82 654.52,516.06 655.16,517 655.85,510.21 656.37,518.23 657.05,518.3 657.72,518.08 658.21,517.64 658.74,516.56 659.24,517.3 659.78,521.85 660.32,517.88 660.82,517.15 661.36,518.53 662.06,515.46 662.83,517.67 663.4,522.54 664.1,526.78 664.88,518.46 665.53,515.89 666.29,515.25 667,515.59 667.86,517.96 668.39,524.95 668.98,516.06 669.69,517.77 670.19,522.05 671.06,516.4 671.92,524.81 672.79,515.62 673.43,515.34 674.04,521.22 674.54,518.55 675.38,511.32 675.92,516.24 676.53,482.99 677.35,484.23 678.03,492.12 678.73,489.23 679.29,493.4 679.89,487.51 680.43,491.97 681.22,492.98 682.01,492.86 682.85,492.83 683.36,488.08 684,493.64 684.7,494.21 685.44,499.51 686.16,503.09 686.65,494.97 687.17,499.92 687.97,495.54 688.47,492.73 689.04,494.58 689.55,496.01 690.26,485.11 690.78,493.67 691.62,493.39 692.14,490.35 692.74,494.83 693.42,493.24 694.16,492.71 695.06,495.07 695.84,496.8 696.71,492.2 697.5,492.55 698.26,494.9 698.97,495.64 699.71,494.93 700.46,495.23 700.99,487.37 701.53,496.71 702.16,495.43 703.01,493 703.85,496.76 704.4,493.35 705.28,493.05 706.11,496.5 706.65,503.75 707.27,492.13 708.02,492.46 708.88,495.07 709.77,494.62 710.59,495.07 711.32,496.49 712.07,491.16 712.75,500.51 713.63,496.09 714.4,493.98 714.96,494.73 715.47,494.52 715.98,496.94 716.59,478.33 717.19,478.24 717.79,477.87 718.64,479.91 719.36,470.97 720,482.76 720.68,481.28 721.18,480.76 721.9,484.06 722.77,480.6 723.42,483.36 724.32,489.03 725.03,500.04 725.62,484.47 726.51,478.24 727.03,484.05 727.81,479.45 728.4,481.53 729,482.47 729.58,484.58 730.21,481.4 730.79,483.29 731.39,472.74 731.97,482.56 732.76,482.46 733.65,488.23 734.31,483.68 734.97,480.13 735.77,481.06 736.57,480.29 737.14,483.48 737.67,487.28 738.48,479.44 739.35,483.99 739.97,474.44 740.55,480.11 741.44,483.25 742.26,484.53 742.8,482.93 743.69,479.97 744.43,474.05 744.97,482.66 745.71,484.41 746.54,479.23 747.18,488.32 747.68,484.09 748.38,480.59 749.03,481.19 749.73,480.06 750.23,480.71 751.1,478.02 751.96,485.72 752.49,484.1 753.35,484.55 754.13,482.7 754.79,482.85 755.35,470.02 756.19,464.3 756.72,473.76 757.32,474.35 758.17,474.32 758.7,475.23 759.37,474.06 759.88,471.15 760.4,479.9 761.23,479.44 761.91,474.25 762.73,468.6 763.34,473.49 763.97,473.94 764.81,471.12 765.53,473.23 766.25,465.92 767.15,472.58 767.9,469.71 768.52,473.05 769.15,472.94 769.79,473.27 770.63,470.05 771.14,470.07 771.97,472.2 772.77,467.18 773.4,468.85 773.9,465.44 774.74,477.22 775.28,472.45 776,462.75 776.57,470.71 777.17,472.58 777.78,471.8 778.39,469.51 779.01,462.76 779.61,469.14 780.35,470.15 781.15,466.25 781.82,470.09 782.54,466.84 783.38,465.72 783.91,472.45 784.8,471.2 785.48,466.63 786.25,475.55 786.79,467.24 787.37,465.13 788.12,466.6 788.87,461.98 789.36,463.66 789.9,468.84 790.76,464.32 791.56,465.06 792.43,466.82 793.22,464.38 793.75,464.71 794.1,342.85 795.5,405.46 797,361.4 798,400.82 799,363.72 800.5,405.46 801.5,372.99 802.5,428.65 803,391.65 803.3,423.64 803.54,385.74 804,391.01 804.35,415.76 804.62,388.62 804.9,393.45 805.26,410.01 805.58,388.93 806.08,413.55 806.56,390.63 807,411.12 807.39,392.11 807.89,412.93 808.2,385.28 808.61,411.4 808.89,392.68 809.15,412.5 809.43,386.13 809.87,415.75 810.11,386.07 810.41,409.06 810.96,389.2 811.47,410.24 811.81,387.88 812.35,418.85 812.8,387.99 813.33,413.23 813.66,393.48 814.12,412.14 814.49,386.15 814.81,410.4 815.15,394.17 815.69,409.84 816.05,393.77 816.43,414.7 816.67,393.15 816.95,419.56 817.32,393.7 817.6,410.1 818.06,393.7 818.51,412.53 818.79,390.92 819.3,412.25 819.84,394.13 820.17,418.26 820.67,391.34 821.05,411.54 821.51,392.4 821.9,412.56 822.4,392.76 822.66,417.93 822.99,391.74 823.48,413.49 823.93,392.66 824.28,414.47 824.62,392.7 825.07,414.14 825.46,388.77 825.76,417.25 826.11,387.57 826.6,413.77 827.14,386.88 827.55,427.53 828.02,384.72 828.51,418.86 828.97,389.07 829.43,417.6 829.7,390.98 830.02,430.33 830.44,383.1 830.68,432.19 831.05,387.11 831.47,425.05 831.73,394.87 832.5,405.46 833,319.43 835,320.58 838,322.9 843,324.53 844,324.69 845.5,324.54 847,324.82 848.5,324.64 850,324.82 851.5,324.87 853,324.68 854.5,324.79 856,324.66 857.5,324.36 859,324.85 860.5,324.44 862,324.78 863.5,324.32 865,324.36 866.5,324.73 868,324.28 869.5,324.38 871,324.82 872.5,324.59 874,324.39 875.5,324.23 877,324.75 878.5,324.7 880,324.34 881.5,324.21 883,324.81 884.5,324.81 886,324.35 887.5,324.65 889,324.61 890.5,324.27 892,324.36 893.5,324.42 895,324.27 896.5,324.37 898,324.31 899.5,324.43 901,324.48 902.5,324.88 904,324.32 905.5,324.34 907,324.76 908.5,324.6 910,325.05 911.5,324.74 913,324.68 914.5,324.94 916,324.88 917.5,324.62 919,325.13 920.5,324.94 922,325.22 923.5,325.04 925,324.72 926.5,324.94 928,325.37 929.5,324.82 931,324.99 932.5,325.12 934,325.3 935.5,325.32 937,325.43 938.5,325.16 940,325.58 941.5,324.99 943,325.6 944.5,325.27 946,325.33 947.5,325.5 949,325.59 950.5,325.5 952,325.57 953.5,325.13 955,325.35 956.5,325.44 958,325.34 959.5,325.46 961,325.7 962.5,325.79 964,325.13 965.5,325.21 967,325.74 968.5,325.38 970,325.26 971.5,325.18 973,325.76 974.5,325.71 976,325.53 977.5,325.38 979,325.74 980.5,325.32 982,325.28 983.5,325.49 985,325.21 986.5,325.53 988,325.22 989.5,325.54 991,325.52 992.5,325.54 994,325.31 995.5,325.19 997,325.75 998.5,325.39 1000,325.22 1001.5,325.27 1003,325.53 1004.5,325.38 1006,324.97 1007.5,325.38 1009,324.81 1010.5,325.15 1012,325 1013.5,324.82 1015,324.78 1016.5,324.79 1018,324.54" fill="none" stroke="#0f2275" stroke-width="2.0" stroke-linejoin="round"/>
<polyline points="598,543.9 692,543.9 692.3,537.2 692.9,543.6 694.7,543.9 695,539.9 695.35,543.9 697.89,543.9 698.19,541.13 698.54,543.9 701.56,543.9 701.86,540.21 702.21,543.9 705.72,543.9 706.02,539.8 706.37,543.9 709.47,543.9 709.77,540.18 710.12,543.9 713.67,543.9 713.97,538.93 714.32,543.9 717.69,543.9 717.99,540.38 718.34,543.9 721.27,543.9 721.57,541.42 721.92,543.9 725,543.9 725.3,539.33 725.65,543.9 729.12,543.9 729.42,540.51 729.77,543.9 733.03,543.9 733.33,539.23 733.68,543.9 736.59,543.9 736.89,536.98 737.24,543.9 740.58,543.9 740.88,537.9 741.23,543.9 744.29,543.9 744.59,538.93 744.94,543.9 747.85,543.9 748.15,540.03 748.5,543.9 751.35,543.9 751.65,538.98 752,543.9 754.48,543.9 754.78,539.38 755.13,543.9 757.7,543.9 758,540 758.35,543.9 760.84,543.9 761.14,539.6 761.49,543.9 765.02,543.9 765.32,538.08 765.67,543.9 769.21,543.9 769.51,538.86 769.86,543.9 772.86,543.9 773.16,539.27 773.51,543.9 776.97,543.9 777.27,537.78 777.62,543.9 780,543.9 780.3,540.73 780.65,543.9 783.71,543.9 784.01,539.78 784.36,543.9 787.73,543.9 788.03,539.44 788.38,543.9 791.44,543.9 791.74,538.94 792.09,543.9 794.5,543.9 794.8,539.83 795.15,543.9 798.22,543.9 798.52,539.37 798.87,543.9 802.28,543.9 802.58,539.94 802.93,543.9 805.46,543.9 805.76,540.06 806.11,543.9 809.4,543.9 809.7,539.97 810.05,543.9 813.55,543.9 813.85,539.58 814.2,543.9 817.36,543.9 817.66,539.79 818.01,543.9 820.96,543.9 821.26,540.84 821.61,543.9 824.81,543.9 825.11,539.44 825.46,543.9 828.38,543.9 828.68,539.35 829.03,543.9 831.72,543.9 832.02,538.93 832.37,543.9 835.65,543.9 835.95,539.19 836.3,543.9 839.11,543.9 839.41,539.76 839.76,543.9 842.9,543.9 843.2,539.79 843.55,543.9 846.39,543.9 846.69,540.25 847.04,543.9 850.11,543.9 850.41,540.64 850.76,543.9 854.15,543.9 854.45,540.07 854.8,543.9 857.22,543.9 857.52,540.24 857.87,543.9 860.28,543.9 860.58,539.04 860.93,543.9 864.18,543.9 864.48,538.99 864.83,543.9 867.27,543.9 867.57,539.83 867.92,543.9 871,543.9 872.6,533.5 873.2,540 873.5,537.7 873.99,543.03 874.36,538.06 874.8,543.41 875.1,537.25 875.51,543.02 876.17,538.6 876.74,542.89 877.25,537.83 877.62,542.62 878.09,537.63 878.6,543.27 878.97,536.25 879.5,542.88 880.11,535.42 880.74,542.47 881.13,538.5 881.79,542.76 882.36,535.96 882.81,544.55 883.17,538.26 883.74,544.07 884.26,537.8 884.95,543.23 885.59,535.84 886.19,542.58 886.71,538.53 887.08,543.35 887.66,537.83 888.06,542.75 888.62,538.5 889.03,542.93 889.37,538.62 889.97,542.82 890.58,536.44 891,544.46 891.34,538.48 891.85,542.65 892.37,538.17 893.03,537.77 893.57,543.17 894.18,537.66 894.77,543.28 895.2,536.69 895.76,543.36 896.42,538.54 897.04,543.33 897.46,542.93 898.07,538.58 898.63,543.86 899.23,535.8 899.6,542.95 900.04,538.46 900.53,542.96 901.18,537.67 901.6,543.26 902.26,538.59 902.6,544.15 905,539.57 905.78,539.43 906.59,539.39 907.56,540.35 908.6,539.35 909.52,540.14 910.29,538.65 911.04,539.05 911.67,539.26 912.42,538.97 913.05,540.27 913.85,539.06 914.81,540.77 915.39,539.65 916.11,539.98 916.74,539.02 917.55,539.4 918.34,539.56 918.99,540 919.9,539.68 920.5,540.09 921.17,539.61 921.88,539.98 922.74,539.56 923.7,540.63 924.47,539.18 925.49,540.19 926.08,539.33 926.82,539.93 927.65,539.53 928.63,539.71 929.28,539.4 929.88,539.27 930.81,540.13 931.83,537.96 932.49,537.71 933.41,539.43 933.99,539.75 934.88,539.29 935.46,540.06 936.39,537.45 937.01,539.37 937.77,538.96 938.61,540 939.37,539.36 939.95,539.7 940.88,539.52 941.49,539.37 942.44,539.33 943.18,539.85 943.89,539.52 944.57,540.17 945.35,539.24 946.25,538.09 946.97,539.17 947.72,539.42 948.69,538.85 949.28,538.83 950.02,538.12 950.94,534.62 951.86,536.3 952.81,535.87 953.81,535.8 954.42,535.74 955.23,536.21 955.8,536.73 956.54,536.46 957.4,535.77 958.17,535.66 959.21,537.29 960,536.06 961.01,536.88 962.04,535.62 962.68,536.49 963.41,536.34 964.4,536.87 965.14,535.55 966.14,536.16 966.76,537.65 967.66,536.69 968.38,536.62 969.12,535.98 969.86,536.02 970.59,535.45 971.3,535.83 972.08,535.68 972.94,536.29 973.95,536.49 974.92,535.35 975.62,534.99 976.59,535.46 977.58,537.01 978.33,536.05 979.18,535.29 979.98,536.44 980.8,536.38 981.58,535.3 982.38,536.04 983.11,535.77 983.76,535.22 984.76,535.71 985.5,534.56 986.34,536.35 986.94,535.34 988,538.8 988.3,543.9 1019,543.9" fill="none" stroke="#7c1a1a" stroke-width="1.4" stroke-linejoin="round"/>
</g>
<text x="51.4" y="258.5" font-size="16" text-anchor="end" textLength="9.28" lengthAdjust="spacingAndGlyphs">0</text>
<text x="51.4" y="234.94" font-size="16" text-anchor="end" textLength="17.41" lengthAdjust="spacingAndGlyphs">10</text>
<text x="51.4" y="211.38" font-size="16" text-anchor="end" textLength="21.1" lengthAdjust="spacingAndGlyphs">20</text>
<text x="51.4" y="187.82" font-size="16" text-anchor="end" textLength="21.1" lengthAdjust="spacingAndGlyphs">30</text>
<text x="51.4" y="164.26" font-size="16" text-anchor="end" textLength="21.1" lengthAdjust="spacingAndGlyphs">40</text>
<text x="51.4" y="140.7" font-size="16" text-anchor="end" textLength="21.1" lengthAdjust="spacingAndGlyphs">50</text>
<text x="51.4" y="117.14" font-size="16" text-anchor="end" textLength="21.1" lengthAdjust="spacingAndGlyphs">60</text>
<text x="51.4" y="93.58" font-size="16" text-anchor="end" textLength="21.1" lengthAdjust="spacingAndGlyphs">70</text>
<text x="51.4" y="70.02" font-size="16" text-anchor="end" textLength="21.1" lengthAdjust="spacingAndGlyphs">80</text>
<text x="51.4" y="46.46" font-size="16" text-anchor="end" textLength="21.1" lengthAdjust="spacingAndGlyphs">90</text>
<text x="51.4" y="22.9" font-size="16" text-anchor="end" textLength="26.69" lengthAdjust="spacingAndGlyphs">100</text>
<text x="462.5" y="256.7" font-size="16" text-anchor="start" textLength="9.28" lengthAdjust="spacingAndGlyphs">0</text>
<text x="462.5" y="225.13" font-size="16" text-anchor="start" textLength="6.86" lengthAdjust="spacingAndGlyphs">1</text>
<text x="462.5" y="191.26" font-size="16" text-anchor="start" textLength="9.28" lengthAdjust="spacingAndGlyphs">2</text>
<text x="462.5" y="157.39" font-size="16" text-anchor="start" textLength="9.28" lengthAdjust="spacingAndGlyphs">3</text>
<text x="462.5" y="123.52" font-size="16" text-anchor="start" textLength="9.28" lengthAdjust="spacingAndGlyphs">4</text>
<text x="462.5" y="89.65" font-size="16" text-anchor="start" textLength="9.28" lengthAdjust="spacingAndGlyphs">5</text>
<text x="462.5" y="55.78" font-size="16" text-anchor="start" textLength="9.28" lengthAdjust="spacingAndGlyphs">6</text>
<text x="462.5" y="21.91" font-size="16" text-anchor="start" textLength="9.28" lengthAdjust="spacingAndGlyphs">7</text>
<text x="53.75" y="272.6" font-size="16" text-anchor="middle" textLength="9.28" lengthAdjust="spacingAndGlyphs">0</text>
<text x="106.4" y="272.6" font-size="16" text-anchor="middle" textLength="26.69" lengthAdjust="spacingAndGlyphs">100</text>
<text x="172.8" y="272.6" font-size="16" text-anchor="middle" textLength="30.59" lengthAdjust="spacingAndGlyphs">200</text>
<text x="237.3" y="272.6" font-size="16" text-anchor="middle" textLength="30.59" lengthAdjust="spacingAndGlyphs">300</text>
<text x="301.3" y="272.6" font-size="16" text-anchor="middle" textLength="30.59" lengthAdjust="spacingAndGlyphs">400</text>
<text x="365.7" y="272.6" font-size="16" text-anchor="middle" textLength="30.59" lengthAdjust="spacingAndGlyphs">500</text>
<text x="430.5" y="272.6" font-size="16" text-anchor="middle" textLength="30.59" lengthAdjust="spacingAndGlyphs">600</text>
<text x="50.4" y="549.6" font-size="16" text-anchor="end" textLength="9.28" lengthAdjust="spacingAndGlyphs">0</text>
<text x="50.4" y="526.05" font-size="16" text-anchor="end" textLength="17.41" lengthAdjust="spacingAndGlyphs">10</text>
<text x="50.4" y="502.5" font-size="16" text-anchor="end" textLength="21.1" lengthAdjust="spacingAndGlyphs">20</text>
<text x="50.4" y="478.95" font-size="16" text-anchor="end" textLength="21.1" lengthAdjust="spacingAndGlyphs">30</text>
<text x="50.4" y="455.4" font-size="16" text-anchor="end" textLength="21.1" lengthAdjust="spacingAndGlyphs">40</text>
<text x="50.4" y="431.85" font-size="16" text-anchor="end" textLength="21.1" lengthAdjust="spacingAndGlyphs">50</text>
<text x="50.4" y="408.3" font-size="16" text-anchor="end" textLength="21.1" lengthAdjust="spacingAndGlyphs">60</text>
<text x="50.4" y="384.75" font-size="16" text-anchor="end" textLength="21.1" lengthAdjust="spacingAndGlyphs">70</text>
<text x="50.4" y="361.2" font-size="16" text-anchor="end" textLength="21.1" lengthAdjust="spacingAndGlyphs">80</text>
<text x="50.4" y="337.65" font-size="16" text-anchor="end" textLength="21.1" lengthAdjust="spacingAndGlyphs">90</text>
<text x="50.4" y="314.1" font-size="16" text-anchor="end" textLength="26.69" lengthAdjust="spacingAndGlyphs">100</text>
<text x="461" y="549.6" font-size="16" text-anchor="start" textLength="9.28" lengthAdjust="spacingAndGlyphs">0</text>
<text x="461" y="517.83" font-size="16" text-anchor="start" textLength="6.86" lengthAdjust="spacingAndGlyphs">1</text>
<text x="461" y="483.96" font-size="16" text-anchor="start" textLength="9.28" lengthAdjust="spacingAndGlyphs">2</text>
<text x="461" y="450.09" font-size="16" text-anchor="start" textLength="9.28" lengthAdjust="spacingAndGlyphs">3</text>
<text x="461" y="416.22" font-size="16" text-anchor="start" textLength="9.28" lengthAdjust="spacingAndGlyphs">4</text>
<text x="461" y="382.35" font-size="16" text-anchor="start" textLength="9.28" lengthAdjust="spacingAndGlyphs">5</text>
<text x="461" y="348.48" font-size="16" text-anchor="start" textLength="9.28" lengthAdjust="spacingAndGlyphs">6</text>
<text x="461" y="314.61" font-size="16" text-anchor="start" textLength="9.28" lengthAdjust="spacingAndGlyphs">7</text>
<text x="53.2" y="563.3" font-size="16" text-anchor="middle" textLength="9.28" lengthAdjust="spacingAndGlyphs">0</text>
<text x="105.5" y="563.3" font-size="16" text-anchor="middle" textLength="26.69" lengthAdjust="spacingAndGlyphs">100</text>
<text x="172.3" y="563.3" font-size="16" text-anchor="middle" textLength="30.59" lengthAdjust="spacingAndGlyphs">200</text>
<text x="240" y="563.3" font-size="16" text-anchor="middle" textLength="30.59" lengthAdjust="spacingAndGlyphs">300</text>
<text x="300" y="563.3" font-size="16" text-anchor="middle" textLength="30.59" lengthAdjust="spacingAndGlyphs">400</text>
<text x="364.7" y="563.3" font-size="16" text-anchor="middle" textLength="30.59" lengthAdjust="spacingAndGlyphs">500</text>
<text x="429.5" y="563.3" font-size="16" text-anchor="middle" textLength="30.59" lengthAdjust="spacingAndGlyphs">600</text>
<text x="590.4" y="236.53" font-size="16" text-anchor="end" textLength="18.46" lengthAdjust="spacingAndGlyphs">0.1</text>
<text x="592.6" y="213.45" font-size="16" text-anchor="end" textLength="23" lengthAdjust="spacingAndGlyphs">0.2</text>
<text x="592.6" y="190.38" font-size="16" text-anchor="end" textLength="23" lengthAdjust="spacingAndGlyphs">0.3</text>
<text x="592.6" y="167.3" font-size="16" text-anchor="end" textLength="23" lengthAdjust="spacingAndGlyphs">0.4</text>
<text x="592.6" y="144.23" font-size="16" text-anchor="end" textLength="23" lengthAdjust="spacingAndGlyphs">0.5</text>
<text x="592.6" y="121.15" font-size="16" text-anchor="end" textLength="23" lengthAdjust="spacingAndGlyphs">0.6</text>
<text x="592.6" y="98.08" font-size="16" text-anchor="end" textLength="23" lengthAdjust="spacingAndGlyphs">0.7</text>
<text x="592.6" y="75" font-size="16" text-anchor="end" textLength="23" lengthAdjust="spacingAndGlyphs">0.8</text>
<text x="592.6" y="51.93" font-size="16" text-anchor="end" textLength="23" lengthAdjust="spacingAndGlyphs">0.9</text>
<text x="592.6" y="28.85" font-size="16" text-anchor="end" textLength="22.68" lengthAdjust="spacingAndGlyphs">1.0</text>
<text x="592.5" y="270.4" font-size="16" text-anchor="middle" textLength="9.28" lengthAdjust="spacingAndGlyphs">0</text>
<text x="644.5" y="270.4" font-size="16" text-anchor="middle" textLength="26.69" lengthAdjust="spacingAndGlyphs">100</text>
<text x="711" y="270.4" font-size="16" text-anchor="middle" textLength="30.59" lengthAdjust="spacingAndGlyphs">200</text>
<text x="775.8" y="270.4" font-size="16" text-anchor="middle" textLength="30.59" lengthAdjust="spacingAndGlyphs">300</text>
<text x="840" y="270.4" font-size="16" text-anchor="middle" textLength="30.59" lengthAdjust="spacingAndGlyphs">400</text>
<text x="904" y="270.4" font-size="16" text-anchor="middle" textLength="30.59" lengthAdjust="spacingAndGlyphs">500</text>
<text x="968.8" y="270.4" font-size="16" text-anchor="middle" textLength="30.59" lengthAdjust="spacingAndGlyphs">600</text>
<text x="594" y="525.7" font-size="16" text-anchor="end" textLength="18.46" lengthAdjust="spacingAndGlyphs">0.1</text>
<text x="596.2" y="502.6" font-size="16" text-anchor="end" textLength="23" lengthAdjust="spacingAndGlyphs">0.2</text>
<text x="596.2" y="479.5" font-size="16" text-anchor="end" textLength="23" lengthAdjust="spacingAndGlyphs">0.3</text>
<text x="596.2" y="456.4" font-size="16" text-anchor="end" textLength="23" lengthAdjust="spacingAndGlyphs">0.4</text>
<text x="596.2" y="433.3" font-size="16" text-anchor="end" textLength="23" lengthAdjust="spacingAndGlyphs">0.5</text>
<text x="596.2" y="410.2" font-size="16" text-anchor="end" textLength="23" lengthAdjust="spacingAndGlyphs">0.6</text>
<text x="596.2" y="387.1" font-size="16" text-anchor="end" textLength="23" lengthAdjust="spacingAndGlyphs">0.7</text>
<text x="596.2" y="364" font-size="16" text-anchor="end" textLength="23" lengthAdjust="spacingAndGlyphs">0.8</text>
<text x="596.2" y="340.9" font-size="16" text-anchor="end" textLength="23" lengthAdjust="spacingAndGlyphs">0.9</text>
<text x="596.2" y="317.8" font-size="16" text-anchor="end" textLength="22.68" lengthAdjust="spacingAndGlyphs">1.0</text>
<text x="601.7" y="563.5" font-size="16" text-anchor="middle" textLength="9.28" lengthAdjust="spacingAndGlyphs">0</text>
<text x="654.5" y="563.5" font-size="16" text-anchor="middle" textLength="26.69" lengthAdjust="spacingAndGlyphs">100</text>
<text x="721.5" y="563.5" font-size="16" text-anchor="middle" textLength="30.59" lengthAdjust="spacingAndGlyphs">200</text>
<text x="786.2" y="563.5" font-size="16" text-anchor="middle" textLength="30.59" lengthAdjust="spacingAndGlyphs">300</text>
<text x="850.3" y="563.5" font-size="16" text-anchor="middle" textLength="30.59" lengthAdjust="spacingAndGlyphs">400</text>
<text x="914" y="563.5" font-size="16" text-anchor="middle" textLength="30.59" lengthAdjust="spacingAndGlyphs">500</text>
<text x="978.4" y="563.5" font-size="16" text-anchor="middle" textLength="30.59" lengthAdjust="spacingAndGlyphs">600</text>
<text x="189.7" y="291" font-size="17.5" text-anchor="start" font-weight="bold" textLength="126.07" lengthAdjust="spacingAndGlyphs">Time (minutes)</text>
<text x="729" y="288.7" font-size="17.5" text-anchor="start" font-weight="bold" textLength="124.34" lengthAdjust="spacingAndGlyphs">Time (minutes)</text>
<text x="188.5" y="582.8" font-size="17.5" text-anchor="start" font-weight="bold" textLength="126.07" lengthAdjust="spacingAndGlyphs">Time (minutes)</text>
<text x="737.8" y="582.3" font-size="17.5" text-anchor="start" font-weight="bold" textLength="124.34" lengthAdjust="spacingAndGlyphs">Time (minutes)</text>
<text x="21.9" y="230" font-size="17.5" text-anchor="start" font-weight="bold" textLength="184.42" lengthAdjust="spacingAndGlyphs" transform="rotate(-90 21.9 230)">Dissolved Oxygen (%)</text>
<text x="20.2" y="521" font-size="17.5" text-anchor="start" font-weight="bold" textLength="184.42" lengthAdjust="spacingAndGlyphs" transform="rotate(-90 20.2 521)">Dissolved Oxygen (%)</text>
<text x="480.2" y="51.4" font-size="17.5" text-anchor="start" font-weight="bold" textLength="172.58" lengthAdjust="spacingAndGlyphs" transform="rotate(90 480.2 51.4)">Pump Rate (mL/min)</text>
<text x="478.5" y="343.4" font-size="17.5" text-anchor="start" font-weight="bold" textLength="172.38" lengthAdjust="spacingAndGlyphs" transform="rotate(90 478.5 343.4)">Pump Rate (mL/min)</text>
<text x="560.2" y="211" font-size="17.5" text-anchor="start" font-weight="bold" textLength="144.02" lengthAdjust="spacingAndGlyphs" transform="rotate(-90 560.2 211)">Gas Flow (SLPM)</text>
<text x="563.9" y="500" font-size="17.5" text-anchor="start" font-weight="bold" textLength="142.8" lengthAdjust="spacingAndGlyphs" transform="rotate(-90 563.9 500)">Gas Flow (SLPM)</text>
<text x="74" y="36" font-size="20" text-anchor="start" font-weight="bold" fill="#3454c8">A</text>
<text x="613" y="39.4" font-size="20" text-anchor="start" font-weight="bold" fill="#3454c8">B</text>
<text x="74.8" y="327.6" font-size="20" text-anchor="start" font-weight="bold" fill="#3454c8">C</text>
<text x="612.3" y="331.3" font-size="20" text-anchor="start" font-weight="bold" fill="#3454c8">D</text>
</svg>
</body></html>
